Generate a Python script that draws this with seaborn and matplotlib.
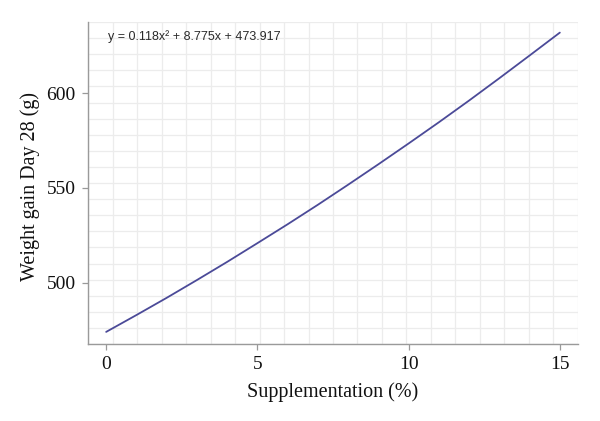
import numpy as np
import pandas as pd
import matplotlib
matplotlib.use("Agg")
import matplotlib.pyplot as plt
import seaborn as sns

supplementation = [0, 1, 2, 3, 4, 5, 6, 7, 8, 9, 10, 11, 12, 13, 14, 15]
weight_gain = [473.9, 482.8, 491.9, 501.3, 510.9, 520.8, 530.8, 541.1,
               551.7, 562.5, 573.5, 584.7, 596.2, 608.0, 620.0, 632.1]
x_ticks = [0, 5, 10, 15]
y_ticks = [500, 550, 600]
equation = "y = 0.118x\u00b2 + 8.775x + 473.917"

df = pd.DataFrame({"x": supplementation, "y": weight_gain})

sns.set_theme(style="white")
plt.rcParams['font.family'] = ['Liberation Serif', 'DejaVu Serif']

fig = plt.figure(figsize=(6, 4.21), dpi=100)
ax = fig.add_axes([0.1467, 0.1829, 0.8166, 0.7648])

sns.lineplot(data=df, x="x", y="y", ax=ax, color="#4b4a98", linewidth=1.3)

xlim = (-0.6, 15.6)
ylim = (467.5, 637.7)
ax.set_xlim(*xlim)
ax.set_ylim(*ylim)
ax.set_xticks(x_ticks)
ax.set_yticks(y_ticks)
ax.set_xticks(np.linspace(xlim[0], xlim[1], 21), minor=True)
ax.set_yticks(np.linspace(ylim[0], ylim[1], 21), minor=True)
ax.grid(which="minor", color="#ececec", linewidth=0.9)
ax.grid(which="major", visible=False)
ax.set_axisbelow(True)
ax.tick_params(axis="both", which="minor", length=0)
ax.tick_params(axis="both", which="major", length=4, width=0.9, color="#999999",
               labelsize=14, labelcolor="#111111", pad=5, direction="out")
ax.xaxis.set_ticks_position("bottom")
ax.yaxis.set_ticks_position("left")

for s in ["top", "right"]:
    ax.spines[s].set_visible(False)
for s in ["left", "bottom"]:
    ax.spines[s].set_color("#9a9a9a")
    ax.spines[s].set_linewidth(1.0)

ax.set_xlabel("Supplementation (%)", fontsize=14.5, color="#111111", labelpad=6)
ax.set_ylabel("Weight gain Day 28 (g)", fontsize=14.5, color="#111111", labelpad=4)
ax.yaxis.set_label_coords(-0.097, 0.49)

ax.text(0.041, 0.955, equation, transform=ax.transAxes, ha="left", va="center",
        fontsize=9, color="#2a2a2a", family=["Liberation Sans", "DejaVu Sans"])

fig.savefig("out.png", dpi=100)
